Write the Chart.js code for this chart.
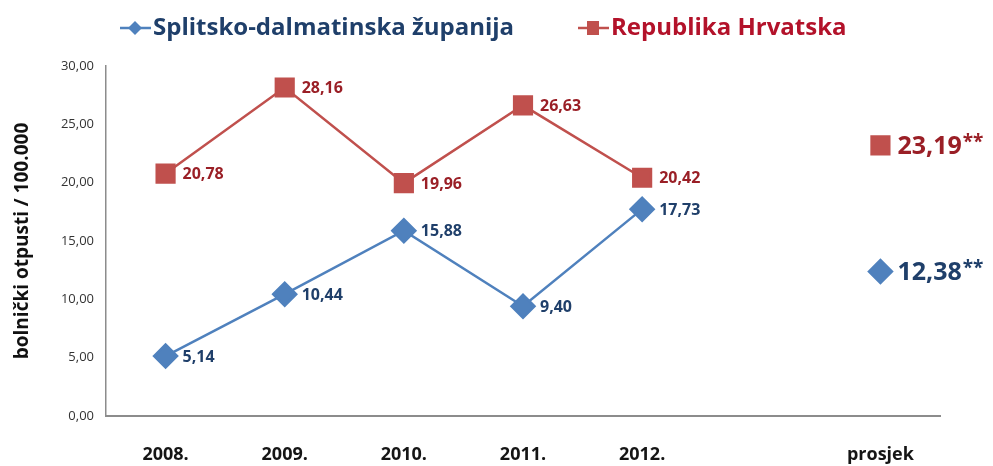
<!DOCTYPE html>
<html>
<head>
<meta charset="utf-8">
<script src="https://cdn.jsdelivr.net/npm/chart.js@4"></script>
<style>
  html, body { margin: 0; padding: 0; background: #fff; }
  #wrap { width: 993px; height: 466px; }
</style>
</head>
<body>
<div id="wrap"><canvas id="chart" width="993" height="466"></canvas></div>
<script>
  // Data
  const categories = ['2008.', '2009.', '2010.', '2011.', '2012.', '', 'prosjek'];
  const splitValues = [5.14, 10.44, 15.88, 9.40, 17.73, null, 12.38];
  const hrvValues = [20.78, 28.16, 19.96, 26.63, 20.42, null, 23.19];
  const seriesNames = ['Splitsko-dalmatinska županija', 'Republika Hrvatska'];
  const yTicks = { min: 0, max: 30, step: 5 };
  const avgIndex = 6;

  const fmt = v => v.toFixed(2).replace('.', ',');
  const FONT = '"Open Sans", sans-serif';

  // Point labels to the right of each marker
  const pointLabels = {
    id: 'pointLabels',
    afterDatasetsDraw(chart) {
      const ctx = chart.ctx;
      chart.data.datasets.forEach((ds, di) => {
        const meta = chart.getDatasetMeta(di);
        meta.data.forEach((pt, i) => {
          const v = ds.data[i];
          if (v == null) return;
          ctx.save();
          ctx.fillStyle = ds.labelColor;
          ctx.textBaseline = 'middle';
          ctx.textAlign = 'left';
          if (i === avgIndex) {
            ctx.font = 'bold 25px ' + FONT;
            const txt = fmt(v);
            ctx.fillText(txt, pt.x + 17, pt.y + 1);
            const w = ctx.measureText(txt).width;
            ctx.font = 'bold 19px ' + FONT;
            ctx.fillText('**', pt.x + 17 + w + 1, pt.y - 3);
          } else {
            ctx.font = 'bold 16px ' + FONT;
            ctx.fillText(fmt(v), pt.x + 17, pt.y + 1);
          }
          ctx.restore();
        });
      });
    }
  };

  // Legend drawn Excel-style: line with marker, then text
  const topLegend = {
    id: 'topLegend',
    afterDraw(chart) {
      const ctx = chart.ctx;
      const y = 28;
      const starts = [120, 578];
      chart.data.datasets.forEach((ds, di) => {
        const x0 = starts[di];
        ctx.save();
        ctx.strokeStyle = ds.borderColor;
        ctx.lineWidth = 2.5;
        ctx.beginPath();
        ctx.moveTo(x0, y);
        ctx.lineTo(x0 + 31, y);
        ctx.stroke();
        ctx.fillStyle = ds.borderColor;
        const cx = x0 + 15;
        if (ds.pointStyle === 'rectRot') {
          ctx.beginPath();
          ctx.moveTo(cx, y - 7);
          ctx.lineTo(cx + 7, y);
          ctx.lineTo(cx, y + 7);
          ctx.lineTo(cx - 7, y);
          ctx.closePath();
          ctx.fill();
        } else {
          ctx.fillRect(cx - 6, y - 7, 12, 14);
        }
        ctx.font = 'bold 24px ' + FONT;
        ctx.fillStyle = ds.legendColor;
        ctx.textBaseline = 'middle';
        ctx.textAlign = 'left';
        ctx.fillText(ds.label, x0 + 33, y);
        ctx.restore();
      });
    }
  };

  new Chart(document.getElementById('chart'), {
    type: 'line',
    data: {
      labels: categories,
      datasets: [
        {
          label: seriesNames[0],
          data: splitValues,
          borderColor: '#4F81BD',
          backgroundColor: '#4F81BD',
          labelColor: '#1F3F6A',
          legendColor: '#1F3F6A',
          borderWidth: 2.5,
          pointStyle: 'rectRot',
          pointRadius: 11.5,
          pointHoverRadius: 11.5,
          spanGaps: false,
          tension: 0
        },
        {
          label: seriesNames[1],
          data: hrvValues,
          borderColor: '#C0504D',
          backgroundColor: '#C0504D',
          labelColor: '#9A1F26',
          legendColor: '#B3122A',
          borderWidth: 2.5,
          pointStyle: 'rect',
          pointRadius: 12.5,
          pointHoverRadius: 12.5,
          spanGaps: false,
          tension: 0
        }
      ]
    },
    options: {
      responsive: false,
      animation: false,
      layout: { padding: { top: 66, right: 53, left: 0, bottom: 0 } },
      plugins: {
        legend: { display: false },
        tooltip: { enabled: false }
      },
      scales: {
        x: {
          offset: true,
          afterFit(scale) { scale.height = 50; },
          grid: { display: false, drawTicks: false },
          border: { color: '#8c8c8c', width: 2 },
          ticks: {
            color: '#151515',
            padding: 28,
            font: { family: FONT, size: 18, weight: 'bold' }
          }
        },
        y: {
          min: yTicks.min,
          max: yTicks.max,
          afterFit(scale) { scale.width = 106; },
          grid: { display: false, drawTicks: true, tickLength: 6, tickColor: '#8c8c8c' },
          border: { color: '#8c8c8c', width: 1.5 },
          ticks: {
            stepSize: yTicks.step,
            color: '#333',
            padding: 6,
            font: { family: FONT, size: 13 },
            callback: v => fmt(v)
          },
          title: {
            display: true,
            text: 'bolnički otpusti / 100.000',
            color: '#111',
            padding: { top: 11, bottom: 0 },
            font: { family: FONT, size: 19, weight: 'bold' }
          }
        }
      }
    },
    plugins: [pointLabels, topLegend]
  });
</script>
</body>
</html>
